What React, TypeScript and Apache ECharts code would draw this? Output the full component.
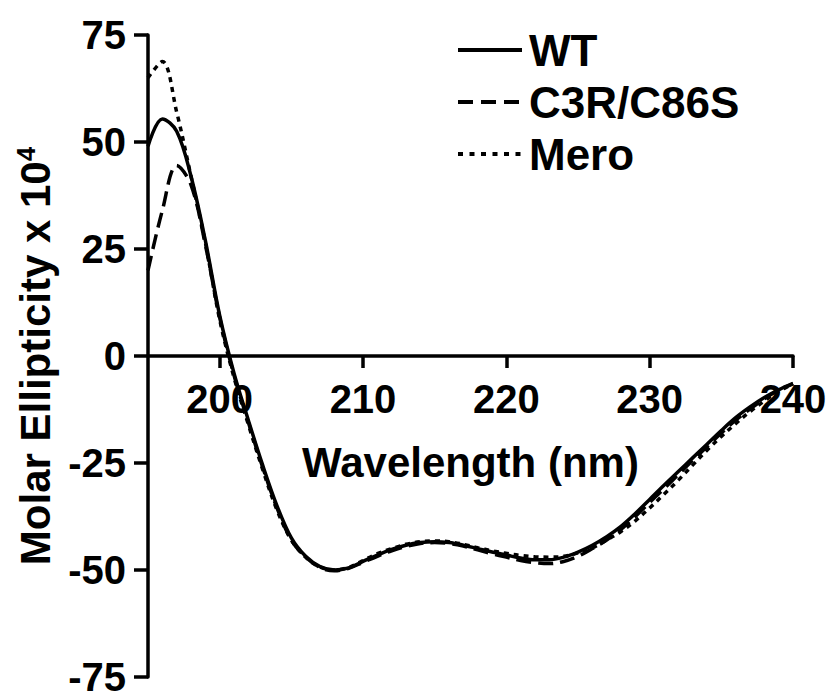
import React, { useEffect, useRef } from "react";
import * as echarts from "echarts";

const wavelengths = [
  195, 196, 197, 198, 199, 200, 201, 202, 203, 204, 205, 206, 207, 208, 209, 210,
  211, 212, 213, 214, 215, 216, 217, 218, 219, 220, 221, 222, 223, 224, 225, 226,
  227, 228, 229, 230, 231, 232, 233, 234, 235, 236, 237, 238, 239, 240,
];

const wtValues = [
  49, 55.4, 52.5, 42, 27, 9.5, -4, -15, -25.5, -35, -42.5, -46.8, -49.2, -50, -49.5, -48,
  -46.5, -45.2, -44.2, -43.6, -43.4, -43.6, -44.2, -45, -45.8, -46.5, -47.2, -47.6, -47.6, -47, -45.8, -44.2,
  -42.2, -39.8, -36.8, -33.5, -30.2, -27, -23.8, -20.6, -17.4, -14.4, -11.9, -9.7, -7.9, -6.4,
];

const c3rValues = [
  20, 34, 44.5, 40, 26, 9, -4.5, -15.5, -26, -35.5, -43, -47, -49.4, -50.2, -49.6, -48.2,
  -46.8, -45.5, -44.5, -43.8, -43.6, -43.8, -44.4, -45.3, -46.2, -47, -47.8, -48.3, -48.5, -48, -46.8, -45,
  -43, -40.5, -37.5, -34.2, -31, -27.7, -24.4, -21.2, -18, -15, -12.4, -10, -8, -6.5,
];

const meroValues = [
  65, 68.8, 57, 42, 26.5, 8.5, -5, -16, -26.5, -36, -43, -47, -49.3, -50, -49.4, -47.8,
  -46.2, -45, -44, -43.4, -43.2, -43.4, -44, -44.8, -45.5, -46.1, -46.6, -46.9, -47, -46.8, -46, -44.8,
  -43, -41, -38.5, -35.5, -32.3, -29, -25.5, -22, -18.8, -15.8, -13, -10.5, -8.3, -6.5,
];

const seriesNames = ["WT", "C3R/C86S", "Mero"];
const xTickValues = [200, 210, 220, 230, 240];

const FONT = "'Liberation Sans', Arial, Helvetica, sans-serif";

export default function App() {
  const ref = useRef<HTMLDivElement>(null);

  useEffect(() => {
    if (!ref.current) return;
    const chart = echarts.init(ref.current, null, { renderer: "svg" });
    const pair = (vals: number[]) => wavelengths.map((w, i) => [w, vals[i]]);
    const lineTypes: any[] = ["solid", [15, 7], [5, 5]];
    const legendTypes: any[] = ["solid", [15, 8], [5, 6.5]];
    const datasets = [wtValues, c3rValues, meroValues];

    chart.setOption({
      animation: false,
      backgroundColor: "#ffffff",
      grid: {
        left: 148,
        right: 36,
        top: 35,
        bottom: 17,
        containLabel: false,
        outerBoundsMode: "none",
      },
      legend: {
        orient: "vertical",
        left: 451,
        top: 23,
        itemWidth: 64,
        itemHeight: 14,
        itemGap: 8,
        itemStyle: { color: "transparent", borderColor: "transparent", borderWidth: 0 },
        textStyle: {
          fontFamily: FONT,
          fontWeight: "bold",
          fontSize: 44,
          color: "#000",
          lineHeight: 44,
          padding: [0, 0, 0, 2],
        },
        data: seriesNames.map((name, i) => ({
          name,
          lineStyle: { color: "#000", width: 4, type: legendTypes[i] },
          itemStyle: { color: "transparent", borderColor: "transparent", borderWidth: 0 },
        })),
      },
      xAxis: {
        type: "value",
        min: 195,
        max: 240,
        position: "bottom",
        offset: -321,
        name: "Wavelength (nm)",
        nameLocation: "middle",
        nameGap: 85,
        nameTextStyle: {
          fontFamily: FONT,
          fontWeight: "bold",
          fontSize: 42,
          color: "#000",
        },
        axisLine: { onZero: false, lineStyle: { color: "#000", width: 3.5 } },
        axisTick: {
          show: true,
          length: 12,
          customValues: xTickValues,
          lineStyle: { color: "#000", width: 3.5 },
        },
        axisLabel: {
          customValues: xTickValues,
          margin: 23,
          fontFamily: FONT,
          fontWeight: "bold",
          fontSize: 40,
          color: "#000",
        },
        splitLine: { show: false },
      },
      yAxis: {
        type: "value",
        min: -75,
        max: 75,
        interval: 25,
        name: "Molar Ellipticity x 10{sup|4}",
        nameLocation: "middle",
        nameGap: 87,
        nameRotate: 90,
        nameTextStyle: {
          fontFamily: FONT,
          fontWeight: "bold",
          fontSize: 42,
          lineHeight: 44,
          color: "#000",
          rich: {
            sup: {
              fontFamily: FONT,
              fontWeight: "bold",
              fontSize: 26,
              lineHeight: 26,
              verticalAlign: "top",
              color: "#000",
            },
          },
        },
        axisLine: { show: true, onZero: false, lineStyle: { color: "#000", width: 3.5 } },
        axisTick: { show: true, length: 14, lineStyle: { color: "#000", width: 3.5 } },
        axisLabel: {
          margin: 22,
          fontFamily: FONT,
          fontWeight: "bold",
          fontSize: 40,
          lineHeight: 30,
          color: "#000",
        },
        splitLine: { show: false },
      },
      series: seriesNames.map((name, i) => ({
        name,
        type: "line",
        data: pair(datasets[i]),
        symbol: "none",
        smooth: 0.35,
        z: 3 - i,
        lineStyle: { color: "#000", width: 3.5, type: lineTypes[i] },
        itemStyle: { color: "#000" },
      })),
    });

    return () => chart.dispose();
  }, []);

  return (
    <div
      ref={ref}
      style={{ position: "absolute", left: 0, top: 0, width: 829, height: 694 }}
    />
  );
}
